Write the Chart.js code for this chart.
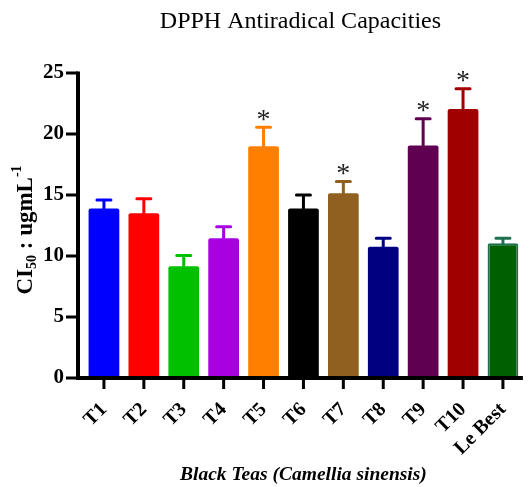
<!DOCTYPE html>
<html>
<head>
<meta charset="utf-8">
<script src="https://cdn.jsdelivr.net/npm/chart.js@4"></script>
<style>
  html, body { margin: 0; padding: 0; background: #fff; }
  #wrap { width: 532px; height: 487px; }
</style>
</head>
<body>
<div id="wrap"><canvas id="chart"></canvas></div>
<script>
const teas = ["T1", "T2", "T3", "T4", "T5", "T6", "T7", "T8", "T9", "T10", "Le Best"];
const ci50 = [13.9, 13.5, 9.15, 11.45, 19.0, 13.9, 15.15, 10.75, 19.05, 22.05, 11.05];
const errUp = [0.7, 1.2, 0.9, 0.95, 1.55, 1.1, 0.95, 0.7, 2.2, 1.65, 0.4];
const signif = [false, false, false, false, true, false, true, false, true, true, false];
const barColors = ["#0000ff", "#ff0000", "#00c000", "#a800e0", "#ff8000", "#000000",
                   "#8f6020", "#000080", "#600050", "#a00000", "#006000"];
const borderColors = ["#0000ff", "#ff0000", "#00c000", "#a800e0", "#ff8000", "#000000",
                      "#8f6020", "#000080", "#600050", "#a00000", "#1f7050"];
const yTicks = [0, 5, 10, 15, 20, 25];

const SERIF = "'Liberation Serif', 'Times New Roman', serif";

// axes, error bars, asterisks, titles
const extras = {
  id: "extras",
  afterDatasetsDraw(chart) {
    const ctx = chart.ctx;
    const y = chart.scales.y;
    const area = chart.chartArea;
    const axX = area.left - 6;
    const meta = chart.getDatasetMeta(0);

    ctx.save();
    // error bars
    meta.data.forEach((bar, i) => {
      const top = y.getPixelForValue(ci50[i]);
      const capY = y.getPixelForValue(ci50[i] + errUp[i]);
      ctx.strokeStyle = borderColors[i];
      ctx.lineWidth = 3;
      ctx.lineCap = "round";
      ctx.beginPath();
      ctx.moveTo(bar.x, top);
      ctx.lineTo(bar.x, capY);
      ctx.moveTo(bar.x - 7, capY);
      ctx.lineTo(bar.x + 7, capY);
      ctx.stroke();
      if (signif[i]) {
        ctx.fillStyle = "#222";
        ctx.font = "28px " + SERIF;
        ctx.textAlign = "center";
        ctx.textBaseline = "middle";
        ctx.fillText("*", bar.x, capY - 7);
      }
    });

    // axis lines
    const y0 = y.getPixelForValue(0);
    ctx.strokeStyle = "#000";
    ctx.lineCap = "butt";
    ctx.lineWidth = 4;
    ctx.beginPath();
    ctx.moveTo(axX, y.getPixelForValue(25) - 1.5);
    ctx.lineTo(axX, y0 + 2);
    ctx.moveTo(axX - 2, y0);
    ctx.lineTo(area.right, y0);
    ctx.stroke();
    ctx.lineWidth = 3;
    ctx.beginPath();
    yTicks.forEach(v => {
      const py = y.getPixelForValue(v);
      ctx.moveTo(axX - 12, py);
      ctx.lineTo(axX, py);
    });
    meta.data.forEach(bar => {
      ctx.moveTo(bar.x, y0);
      ctx.lineTo(bar.x, y0 + 11);
    });
    ctx.stroke();

    // title
    ctx.fillStyle = "#000";
    ctx.font = "24px " + SERIF;
    ctx.textAlign = "center";
    ctx.textBaseline = "middle";
    ctx.fillText("DPPH Antiradical Capacities", (axX + area.right) / 2, 22);

    // y title with sub/superscript
    ctx.translate(26, 230);
    ctx.rotate(-Math.PI / 2);
    const big = "bold 23px " + SERIF, small = "bold 14px " + SERIF;
    const parts = [["CI", big, 0], ["50", small, 6], [" : ugmL", big, 0], ["-1", small, -9]];
    let w = 0;
    parts.forEach(p => { ctx.font = p[1]; w += ctx.measureText(p[0]).width; });
    let cx = -w / 2;
    ctx.textAlign = "left";
    ctx.textBaseline = "middle";
    parts.forEach(p => {
      ctx.font = p[1];
      ctx.fillText(p[0], cx, p[2]);
      cx += ctx.measureText(p[0]).width;
    });
    ctx.restore();
  }
};

new Chart(document.getElementById("chart"), {
  type: "bar",
  data: {
    labels: teas,
    datasets: [{
      data: ci50,
      backgroundColor: barColors,
      borderColor: borderColors,
      borderWidth: ctx => (ctx.dataIndex === 10 ? 2 : 0),
      borderRadius: 2,
      borderSkipped: "bottom",
      barPercentage: 0.77,
      categoryPercentage: 1
    }]
  },
  options: {
    responsive: true,
    maintainAspectRatio: false,
    animation: false,
    layout: { padding: { top: 73, right: 2, left: 0, bottom: 0 } },
    plugins: {
      legend: { display: false },
      tooltip: { enabled: false }
    },
    scales: {
      x: {
        grid: { display: false },
        border: { display: false },
        ticks: {
          color: "#000",
          minRotation: 45,
          maxRotation: 45,
          padding: 12,
          font: { family: SERIF, size: 20, weight: "bold" }
        },
        title: {
          display: true,
          text: "Black Teas (Camellia sinensis)",
          color: "#000",
          padding: { top: 0, bottom: 0 },
          font: { family: SERIF, size: 19.5, weight: "bold", style: "italic" }
        },
        afterFit: s => { s.height = 109; }
      },
      y: {
        min: 0,
        max: 25,
        grid: { display: false },
        border: { display: false },
        afterBuildTicks: s => { s.ticks = yTicks.map(v => ({ value: v })); },
        ticks: {
          color: "#000",
          padding: 12,
          font: { family: SERIF, size: 21, weight: "bold" }
        },
        afterFit: s => { s.width = 84; }
      }
    }
  },
  plugins: [extras]
});
</script>
</body>
</html>
